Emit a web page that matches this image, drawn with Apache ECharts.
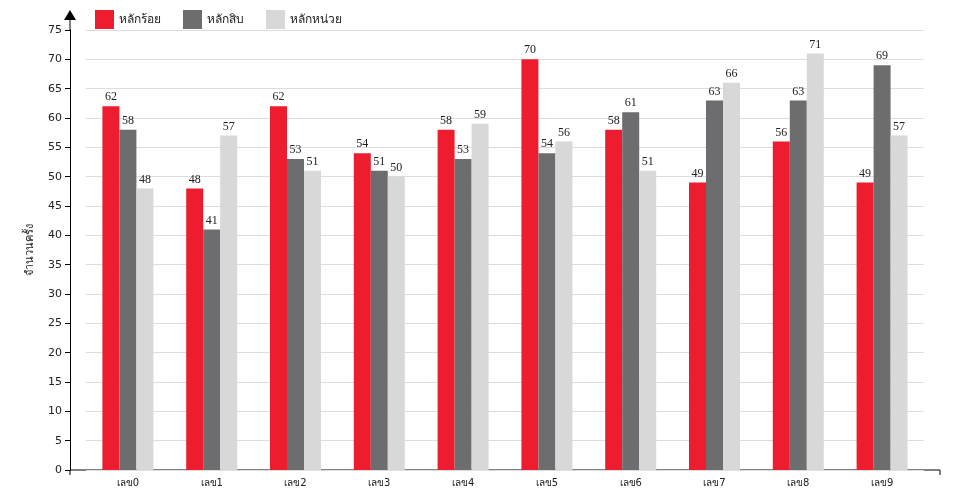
<!DOCTYPE html>
<html>
<head>
<meta charset="UTF-8">
<script src="https://cdn.jsdelivr.net/npm/echarts@6/dist/echarts.min.js"></script>
<style>
    body { margin: 0; background: #fff; }
    #chart { width: 960px; height: 500px; }
</style>
</head>
<body>
<div id="chart"></div>
<script>
    var categories = ['เลข0', 'เลข1', 'เลข2', 'เลข3', 'เลข4', 'เลข5', 'เลข6', 'เลข7', 'เลข8', 'เลข9'];
    var hundreds = [62, 48, 62, 54, 58, 70, 58, 49, 56, 49];
    var tens = [58, 41, 53, 51, 53, 54, 61, 63, 63, 69];
    var units = [48, 57, 51, 50, 59, 56, 51, 66, 71, 57];

    var labelStyle = { show: true, position: 'top', fontFamily: 'Liberation Serif', fontSize: 12, color: '#222', distance: 3 };

    function bar(name, data, color) {
        return { name: name, type: 'bar', data: data, barWidth: 17, barGap: 0, itemStyle: { color: color }, label: labelStyle };
    }

    var chart = echarts.init(document.getElementById('chart'));
    chart.setOption({
        animation: false,
        textStyle: { fontFamily: 'DejaVu Sans' },
        legend: {
            left: 90, top: 5, itemWidth: 19, itemHeight: 19, itemGap: 22,
            icon: 'rect',
            textStyle: { fontSize: 12, color: '#222' }
        },
        grid: { left: 86, right: 36, top: 30, bottom: 30 },
        xAxis: {
            type: 'category', data: categories,
            axisLine: { show: false },
            axisTick: { alignWithLabel: true, lineStyle: { color: '#000' } },
            axisLabel: { fontSize: 10, color: '#222' }
        },
        yAxis: {
            type: 'value', min: 0, max: 75, interval: 5, offset: 16,
            name: 'จำนวนครั้ง', nameLocation: 'middle', nameGap: 34, nameRotate: 90,
            nameTextStyle: { fontSize: 11, color: '#222' },
            axisLine: { show: true, lineStyle: { color: '#000' } },
            axisTick: { show: true, length: 5, lineStyle: { color: '#000' } },
            axisLabel: { fontSize: 11, color: '#222' },
            splitLine: { lineStyle: { color: '#ddd' } }
        },
        graphic: [
            { type: 'line', shape: { x1: 70, y1: 470, x2: 940, y2: 470 }, style: { stroke: '#000', lineWidth: 1 } },
            { type: 'line', shape: { x1: 70, y1: 470, x2: 70, y2: 475 }, style: { stroke: '#000', lineWidth: 1 } },
            { type: 'line', shape: { x1: 940, y1: 470, x2: 940, y2: 475 }, style: { stroke: '#000', lineWidth: 1 } },
            { type: 'line', shape: { x1: 70, y1: 20, x2: 70, y2: 30 }, style: { stroke: '#000', lineWidth: 1 } },
            { type: 'polygon', shape: { points: [[70, 10], [64, 20], [76, 20]] }, style: { fill: '#000' } }
        ],
        series: [
            bar('หลักร้อย', hundreds, '#ed1c2e'),
            bar('หลักสิบ', tens, '#6d6d6f'),
            bar('หลักหน่วย', units, '#d8d8d8')
        ]
    });
</script>
</body>
</html>
